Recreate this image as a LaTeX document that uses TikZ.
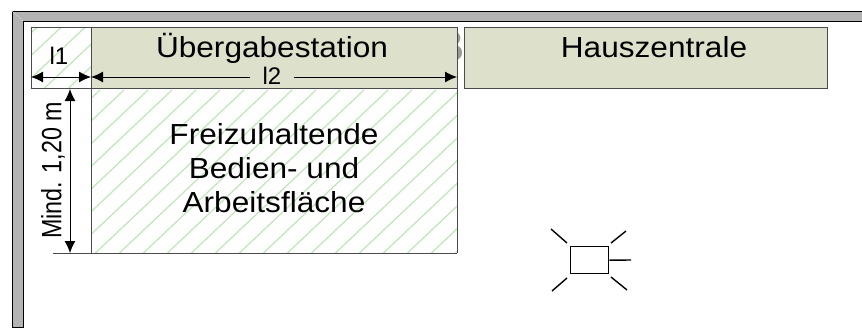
\documentclass[tikz,border=0pt]{standalone}
\usepackage{fontspec}
\usepackage{graphicx}
\setmainfont{Liberation Sans}
\usetikzlibrary{arrows.meta}
\definecolor{wallgray}{HTML}{B3B3B3}
\definecolor{boxfill}{HTML}{DDE1CB}
\definecolor{hatchgreen}{HTML}{BFE6B8}
\definecolor{edgegray}{HTML}{4A4A4A}
\newcommand{\wide}[1]{\scalebox{1.09}[1]{#1}}
\tikzset{
  x=1pt,y=-1pt,
  station/.style={draw=edgegray,line width=1pt,fill=boxfill,minimum height=61pt,inner sep=0pt,anchor=north west},
  area/.style={draw=none,fill=white,inner sep=0pt,anchor=north west},
  dim/.style={draw=black,line width=1pt,{Latex[length=12pt,width=11pt]}-{Latex[length=12pt,width=11pt]}},
  hatchline/.style={draw=hatchgreen,line width=1.2pt},
  label/.style={font=\fontsize{29}{34}\selectfont,text=black,inner sep=0pt},
  small/.style={font=\fontsize{24}{28}\selectfont,text=black,inner sep=0pt},
  lamp/.style={draw=black,line width=1.4pt},
}
\begin{document}
\begin{tikzpicture}
\useasboundingbox (0,0) rectangle (862,327);
\path[fill=white] (0,0) rectangle (862,327);
% wall
\path[fill=wallgray,draw=black,line width=0.8pt] (862,11) -- (12,11) -- (12,327) -- (23,327) -- (23,21) -- (862,21);
\draw[draw=white!85!black,line width=0.4pt] (12,11) -- (23,21);
% partly hidden glyph behind the stations
\node[inner sep=0pt,text=gray!80,font=\fontsize{44}{50}\selectfont] (hidden) at (450,46) {B};
% hatched zones
\node[area,minimum width=60pt,minimum height=61pt] (z1) at (31,27) {};
\node[area,minimum width=366pt,minimum height=165pt] (z2) at (91,88) {};
\begin{scope}
\clip (31,27) rectangle (91,88);
\foreach \s in {-40,-16,...,200} \draw[hatchline] (\s,100) -- (\s+90,15);
\end{scope}
\begin{scope}
\clip (91,88) rectangle (457,253);
\foreach \s in {-104,-80,...,520} \draw[hatchline] (\s,260) -- (\s+180,90);
\end{scope}
% stations
\node[station,minimum width=366pt] (ub) at (91,27) {};
\node[station,minimum width=363pt] (hz) at (464,27) {};
\node[label,anchor=base] at (272,57) {\wide{Übergabestation}};
\node[label,anchor=base] at (654,57) {\wide{Hauszentrale}};
% frame lines
\draw[edgegray,line width=1pt] (31,27) rectangle (91,88);
\draw[edgegray,line width=1pt] (91,88) -- (91,253);
\draw[edgegray,line width=1pt] (457,27) -- (457,253);
\draw[edgegray,line width=1pt] (53,253) -- (457,253);
% dimensions
\coordinate (a) at (31,77); \coordinate (b) at (91,77); \coordinate (c) at (457,77);
\coordinate (t) at (70,89); \coordinate (u) at (70,253);
\draw[dim] (a) -- (b);
\draw[dim] (b) -- (c);
\draw[dim] (t) -- (u);
\node[small,fill=boxfill,inner xsep=13pt,inner ysep=0pt] at (272,76) {l2};
\node[small] at (59,56) {l1};
\node[font=\fontsize{23.3}{28}\selectfont,inner sep=0pt,rotate=90] at (53,170.5) {\scalebox{1}[1.2]{Mind. 1,20 m}};
\node[label] at (274,172) {\wide{\begin{tabular}{@{}c@{}}Freizuhaltende\\Bedien- und\\Arbeitsfläche\end{tabular}}};
% lamp
\node[draw=black,line width=1.4pt,minimum width=38pt,minimum height=27pt,inner sep=0pt,anchor=north west] (lamp) at (570,246) {};
\coordinate (r) at (631,260);
\draw[lamp] (lamp.east) -- (r);
\draw[lamp] (567,243) -- (551,229);
\draw[lamp] (611,243) -- (626,231);
\draw[lamp] (567,278) -- (552,291);
\draw[lamp] (611,277) -- (627,290);
\end{tikzpicture}
\end{document}
